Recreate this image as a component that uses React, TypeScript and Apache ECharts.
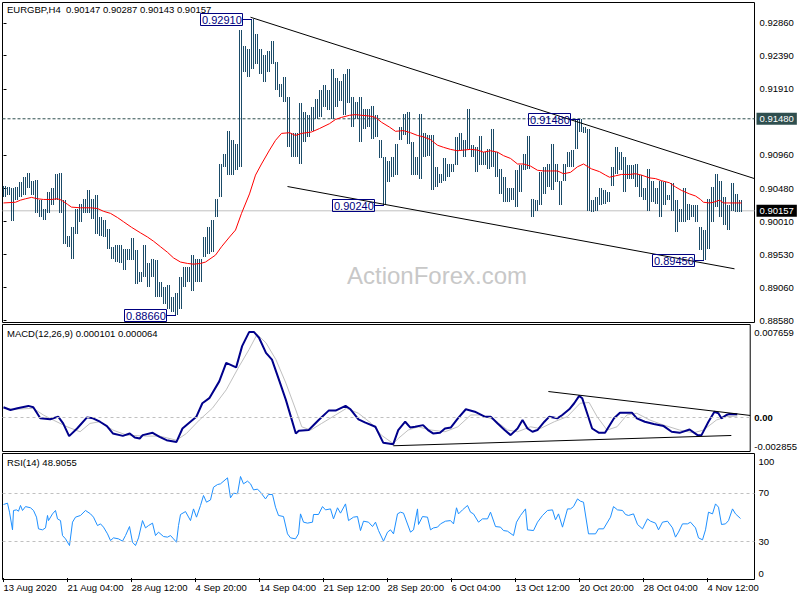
import React, { useEffect, useRef } from 'react';
import * as echarts from 'echarts';

const FONT = '"Liberation Sans", Arial, sans-serif';

// ---- header values ----
const symbolName = 'EURGBP,H4';
const lastOHLC = [0.90147, 0.90287, 0.90143, 0.90157];
const macdLast = [0.000101, 0.000064];
const rsiLast = 48.9055;

// ---- price bars (each entry = two H4 bars, highs / lows) ----
const barHigh = [
  0.9051, 0.9050, 0.9048, 0.9050, 0.9057, 0.9064, 0.9070, 0.9059, 0.9060, 0.9031,
  0.9019, 0.9043, 0.9048, 0.9069, 0.9070, 0.9031, 0.8980, 0.8992, 0.9019, 0.9026,
  0.9033, 0.9045, 0.9033, 0.9038, 0.9007, 0.9002, 0.8990, 0.8964, 0.8966, 0.8966,
  0.8961, 0.8961, 0.8976, 0.8959, 0.8928, 0.8966, 0.8940, 0.8947, 0.8945, 0.8913,
  0.8906, 0.8909, 0.8892, 0.8897, 0.8921, 0.8935, 0.8935, 0.8952, 0.8947, 0.8947,
  0.8978, 0.8992, 0.9002, 0.9033, 0.9083, 0.9098, 0.9131, 0.9117, 0.9112, 0.9275,
  0.9253, 0.9249, 0.9291, 0.9270, 0.9249, 0.9239, 0.9246, 0.9260, 0.9230, 0.9198,
  0.9208, 0.9179, 0.9127, 0.9127, 0.9170, 0.9158, 0.9153, 0.9165, 0.9177, 0.9189,
  0.9196, 0.9190, 0.9220, 0.9206, 0.9203, 0.9213, 0.9219, 0.9179, 0.9172, 0.9179,
  0.9162, 0.9162, 0.9167, 0.9153, 0.9117, 0.9093, 0.9088, 0.9093, 0.9112, 0.9136,
  0.9155, 0.9158, 0.9115, 0.9093, 0.9155, 0.9127, 0.9124, 0.9124, 0.9079, 0.9069,
  0.9091, 0.9083, 0.9083, 0.9122, 0.9127, 0.9117, 0.9162, 0.9110, 0.9107, 0.9123,
  0.9100, 0.9105, 0.9134, 0.9100, 0.9076, 0.9064, 0.9048, 0.9048, 0.9074, 0.9081,
  0.9098, 0.9123, 0.9033, 0.9031, 0.9071, 0.9079, 0.9083, 0.9112, 0.9083, 0.9059,
  0.9083, 0.9100, 0.9103, 0.9148, 0.9148, 0.9136, 0.9134, 0.9031, 0.9036, 0.9048,
  0.9045, 0.9043, 0.9079, 0.9107, 0.9100, 0.9093, 0.9081, 0.9081, 0.9083, 0.9067,
  0.9048, 0.9076, 0.9059, 0.9048, 0.9059, 0.9057, 0.9038, 0.9055, 0.9031, 0.9019,
  0.9048, 0.9026, 0.9024, 0.9024, 0.8992, 0.8988, 0.9033, 0.9050, 0.9069, 0.9059,
  0.9036, 0.9024, 0.9056, 0.9040, 0.9031,
];
const barLow = [
  0.9036, 0.9038, 0.9001, 0.9031, 0.9036, 0.9038, 0.9048, 0.9038, 0.9013, 0.9007,
  0.9003, 0.9012, 0.9024, 0.9031, 0.9012, 0.8968, 0.8964, 0.8946, 0.8983, 0.9000,
  0.9012, 0.9012, 0.9004, 0.8983, 0.8980, 0.8978, 0.8961, 0.8946, 0.8942, 0.8940,
  0.8930, 0.8945, 0.8945, 0.8911, 0.8913, 0.8921, 0.8906, 0.8921, 0.8892, 0.8892,
  0.8882, 0.8875, 0.8870, 0.8866, 0.8875, 0.8906, 0.8913, 0.8901, 0.8913, 0.8913,
  0.8949, 0.8954, 0.8956, 0.9007, 0.9036, 0.9079, 0.9067, 0.9067, 0.9074, 0.9079,
  0.9215, 0.9208, 0.9220, 0.9227, 0.9213, 0.9201, 0.9215, 0.9227, 0.9189, 0.9179,
  0.9172, 0.9107, 0.9093, 0.9093, 0.9083, 0.9115, 0.9122, 0.9131, 0.9148, 0.9150,
  0.9165, 0.9160, 0.9148, 0.9165, 0.9174, 0.9153, 0.9170, 0.9136, 0.9148, 0.9115,
  0.9134, 0.9136, 0.9119, 0.9122, 0.9091, 0.9024, 0.9057, 0.9064, 0.9067, 0.9117,
  0.9124, 0.9112, 0.9067, 0.9067, 0.9062, 0.9093, 0.9095, 0.9045, 0.9050, 0.9055,
  0.9059, 0.9064, 0.9071, 0.9081, 0.9103, 0.9093, 0.9105, 0.9093, 0.9071, 0.9081,
  0.9081, 0.9076, 0.9079, 0.9064, 0.9040, 0.9028, 0.9028, 0.9031, 0.9021, 0.9043,
  0.9074, 0.9076, 0.9007, 0.9016, 0.9024, 0.9040, 0.9050, 0.9045, 0.9057, 0.9024,
  0.9059, 0.9079, 0.9079, 0.9105, 0.9129, 0.9127, 0.9016, 0.9014, 0.9016, 0.9024,
  0.9026, 0.9028, 0.9052, 0.9069, 0.9074, 0.9043, 0.9062, 0.9062, 0.9050, 0.9036,
  0.9031, 0.9016, 0.9028, 0.9026, 0.9007, 0.9024, 0.9031, 0.9016, 0.8985, 0.9000,
  0.9000, 0.9002, 0.9007, 0.9000, 0.8959, 0.8945, 0.8961, 0.9000, 0.9021, 0.9007,
  0.8995, 0.8988, 0.9016, 0.9014, 0.9014,
];

// ---- moving average (bar index, value) ----
const maBars = [
  0, 6, 8.5, 11, 14, 17, 20, 24, 27, 29, 32, 34, 38.5, 43.5, 47, 50, 53.5, 57, 60, 64,
  68.5, 72, 75, 78.5, 82, 85, 88.5, 92, 95, 98.5, 101, 106, 109, 113, 116, 119, 123, 126, 129, 133,
  136, 139, 143, 146, 149, 154, 158, 163, 166, 169, 173, 176, 179, 183, 186, 189, 193, 196, 200, 203.5,
  207, 210, 213.5, 217, 220, 223.5, 227, 230, 233.5, 237, 240, 243.5, 247, 250, 253.5, 257, 260, 263.5, 267, 270,
  273.5, 277, 280, 283.5, 287, 290, 294, 298, 301, 303, 306, 309, 313, 316, 319, 323, 326, 329, 333, 336,
  339, 343, 346, 348.5, 350, 353, 355, 358, 360, 364, 369,
];
const maValues = [
  0.9027, 0.9028, 0.9031, 0.9033, 0.9035, 0.9033, 0.9032, 0.9032, 0.9033, 0.9031, 0.9025, 0.9021, 0.9020, 0.9020, 0.9019, 0.9015, 0.9012, 0.9006, 0.9000, 0.8992,
  0.8984, 0.8978, 0.8972, 0.8964, 0.8956, 0.8948, 0.8942, 0.8940, 0.8939, 0.8940, 0.8942, 0.8952, 0.8964, 0.8978, 0.8988, 0.9012, 0.9040, 0.9067, 0.9083, 0.9103,
  0.9117, 0.9127, 0.9128, 0.9124, 0.9127, 0.9129, 0.9134, 0.9141, 0.9147, 0.9150, 0.9153, 0.9154, 0.9153, 0.9152, 0.9150, 0.9143, 0.9136, 0.9130, 0.9131, 0.9128,
  0.9124, 0.9122, 0.9118, 0.9110, 0.9107, 0.9104, 0.9102, 0.9103, 0.9104, 0.9103, 0.9100, 0.9102, 0.9100, 0.9095, 0.9091, 0.9083, 0.9083, 0.9080, 0.9074, 0.9073,
  0.9073, 0.9073, 0.9069, 0.9071, 0.9079, 0.9083, 0.9076, 0.9072, 0.9067, 0.9064, 0.9066, 0.9068, 0.9068, 0.9069, 0.9067, 0.9063, 0.9062, 0.9059, 0.9056, 0.9050,
  0.9045, 0.9040, 0.9037, 0.9032, 0.9028, 0.9027, 0.9028, 0.9031, 0.9027, 0.9027, 0.9027,
];

// ---- MACD main line (bar index, value) ----
const macdBars = [
  0, 3.5, 7, 12.5, 15, 18.5, 23.5, 27.5, 30, 33, 37, 42, 45, 48.5, 52, 55, 60, 63.5, 66, 68.5,
  70, 75, 78.5, 82, 87, 90, 94, 97, 100, 103.5, 108.5, 112, 117, 120, 123.5, 126, 128.5, 132, 135, 138.5,
  142, 144.5, 147, 148.5, 153.5, 158.5, 163.5, 167, 172, 174.5, 178.5, 182, 187, 191, 196, 198.5, 202, 204.5, 207, 211,
  213.5, 216, 219.5, 222, 225, 228.5, 232.5, 237, 242, 245, 248.5, 252, 255, 258.5, 261, 263.5, 266, 268.5, 272, 274.5,
  278.5, 281, 284.5, 287, 289.5, 291, 293.5, 296, 299.5, 302.5, 307, 310, 316, 318.5, 322.5, 327, 332, 336, 340, 345,
  349, 351, 354.5, 357.5, 359.5, 361, 363.5, 365, 369,
];
const macdValues = [
  0.00081, 0.00058, 0.00072, 0.00092, 0.00081, -0.00011, -0.00019, 0.00003, -0.00053, -0.00158, -0.00095, -0.00003, -0.00011, -0.00039, -0.00075, -0.00136, -0.00156, -0.00136, -0.0017, -0.00178,
  -0.0015, -0.00131, -0.00164, -0.00192, -0.00206, -0.00095, -0.00039, 0.00003, 0.00114, 0.00156, 0.00295, 0.00448, 0.00411, 0.00587, 0.00703, 0.00703, 0.00656, 0.00531, 0.00475, 0.00309,
  0.00142, 0.00003, -0.00136, -0.00114, -0.00108, -0.00025, 0.00053, 0.00053, 0.00092, 0.00064, -0.00019, -0.00047, -0.00081, -0.00214, -0.00225, -0.00108, -0.00039, -0.00086, -0.00081, -0.00067,
  -0.00108, -0.00136, -0.00131, -0.00095, -0.00086, -0.00011, 0.00064, 0.00044, 0.00003, 0.00003, -0.00053, -0.00108, -0.0015, -0.00095, -0.00025, -0.00095, -0.00122, -0.00108, -0.00039, 0.00003,
  -0.00011, 0.00017, 0.00064, 0.00114, 0.00175, 0.00156, 0.00031, -0.00095, -0.00131, -0.00131, -0.00011, 0.00036, 0.00036, -0.00011, -0.00039, -0.00058, -0.00075, -0.00122, -0.00131, -0.00103,
  -0.0015, -0.0015, -0.00039, 0.00044, 0.00031, -0.00011, 0.00017, 0.00025, 0.00022,
];

// ---- MACD signal line ----
const signalBars = [
  0, 5, 15, 20, 25, 32, 38.5, 43.5, 48.5, 55, 62, 72, 78.5, 87, 92, 98.5, 105, 112, 118.5, 123.5,
  127.5, 132, 137, 142, 147, 150, 154.5, 160, 167, 172.5, 178.5, 185, 190, 196, 198.5, 203.5, 208.5, 215, 222, 228.5,
  235, 240, 247, 253.5, 258.5, 265, 270, 277, 283.5, 290, 294.5, 298.5, 303.5, 308.5, 313.5, 318.5, 325, 332, 340, 347,
  352, 358.5, 363.5, 369,
];
const signalValues = [
  0.00072, 0.00064, 0.00072, 0.00017, -0.00025, -0.00081, -0.00122, -0.00053, -0.00039, -0.00108, -0.0015, -0.00158, -0.00158, -0.00192, -0.00136, -0.00025, 0.00072, 0.00225, 0.0042, 0.00559,
  0.00684, 0.00614, 0.00475, 0.00281, 0.00058, -0.00081, -0.00108, -0.00053, 0.00017, 0.00072, 0.00031, -0.00053, -0.0015, -0.0022, -0.00178, -0.00108, -0.00081, -0.00108, -0.00122, -0.00081,
  0.00017, 0.00017, -0.00025, -0.00108, -0.00122, -0.00081, -0.00095, -0.00039, 0.00003, 0.00114, 0.0012, 0.00003, -0.00108, -0.00081, 0.00017, 0.00031, -0.00025, -0.00067, -0.00108, -0.00131,
  -0.00108, -0.00025, 0.00003, 0.00008,
];

// ---- RSI(14) ----
const rsiBars = [
  0, 2, 3, 4.5, 5, 6.5, 7.5, 8.5, 9.5, 11, 13.5, 15, 16.5, 17.5, 19.5, 21, 22, 22.5, 24.5, 26,
  27, 28.5, 29.5, 31, 33, 34.5, 36, 38.5, 41, 43.5, 45, 47, 48.5, 50, 52, 53.5, 55, 57.5, 59.5, 61,
  63, 64.5, 66, 67.5, 69.5, 71, 72.5, 74.5, 76, 77.5, 80, 82, 83.5, 85, 86.5, 87.5, 88.5, 91, 93.5, 95,
  96.5, 98.5, 100, 101.5, 103.5, 105, 107, 108.5, 112, 113.5, 115, 117, 118.5, 120, 122, 123.5, 125, 127, 128.5, 131,
  132.5, 134.5, 136, 137.5, 140, 142, 143.5, 146, 147.5, 148.5, 150, 152, 154.5, 155, 157.5, 159.5, 161, 163.5, 165, 167,
  168.5, 171, 172.5, 175, 177, 178.5, 180, 182.5, 184.5, 186, 187.5, 190, 192, 193.5, 195, 197, 198.5, 200, 203.5, 205,
  207, 207.5, 209.5, 212, 213.5, 215, 217, 218.5, 221, 223.5, 225, 226.5, 227.5, 229.5, 232, 233.5, 235, 237.5, 239.5, 242,
  243.5, 246, 248.5, 250, 252, 255, 256.5, 258.5, 261, 262, 265, 267, 269.5, 272, 274.5, 276, 277.5, 279.5, 282, 283.5,
  285, 287, 288.5, 290, 292.5, 296, 297.5, 300, 303.5, 305, 307, 309.5, 311, 312.5, 315, 317, 319.5, 322, 323.5, 326,
  327.5, 329.5, 332, 334.5, 336, 337.5, 339.5, 342, 343.5, 346, 347.5, 349.5, 351, 352.5, 354.5, 356, 357.5, 359, 361, 362.5,
  364.5, 366, 368.5,
];
const rsiValues = [
  60.4, 61.5, 54.1, 39.6, 55.5, 56.0, 54.9, 59.6, 55.5, 58.7, 57.7, 55.5, 50.0, 40.4, 39.6, 41.2, 51.4, 47.2, 52.7, 55.5,
  48.6, 47.2, 34.9, 32.2, 26.7, 45.9, 50.0, 51.4, 55.5, 52.7, 50.0, 43.1, 44.5, 41.8, 36.3, 30.8, 33.0, 32.2, 30.3, 34.9,
  42.3, 29.4, 26.7, 33.0, 47.2, 41.2, 43.1, 45.1, 34.9, 37.7, 34.1, 33.6, 34.9, 32.2, 29.4, 43.1, 52.2, 54.6, 47.2, 56.8,
  50.0, 59.6, 67.8, 62.3, 64.2, 74.6, 76.8, 77.4, 82.3, 65.9, 69.7, 69.2, 83.4, 77.4, 79.6, 77.4, 72.4, 73.0, 70.5, 65.0,
  68.6, 68.6, 58.2, 51.4, 50.5, 36.3, 33.0, 32.2, 36.3, 52.7, 45.9, 45.1, 45.9, 52.2, 52.2, 58.7, 56.0, 56.8, 48.6, 57.7,
  53.3, 60.9, 47.2, 50.0, 50.5, 39.0, 46.7, 45.9, 42.3, 45.9, 39.0, 30.3, 37.7, 39.6, 36.3, 52.7, 54.1, 53.3, 37.7, 39.6,
  56.8, 44.0, 50.5, 50.0, 39.6, 41.2, 41.8, 44.5, 46.7, 47.2, 44.5, 57.7, 52.7, 56.0, 59.6, 54.1, 52.7, 45.9, 48.6, 48.6,
  54.1, 42.3, 41.8, 39.0, 38.5, 34.9, 45.9, 51.4, 56.8, 39.6, 39.0, 45.9, 51.4, 55.5, 56.0, 47.8, 52.7, 41.8, 56.8, 56.8,
  58.7, 65.0, 63.1, 62.3, 36.3, 36.3, 40.4, 40.4, 50.0, 58.7, 56.0, 55.5, 52.2, 51.4, 52.7, 44.0, 40.4, 48.6, 46.7, 45.1,
  39.6, 45.9, 46.7, 41.2, 33.6, 37.7, 44.5, 44.5, 45.9, 41.2, 33.0, 31.4, 39.6, 54.1, 52.7, 60.9, 58.2, 44.0, 44.5, 47.2,
  56.8, 52.7, 48.9,
];

// ---- axis labels ----
const timeLabels = [
  '13 Aug 2020', '21 Aug 04:00', '28 Aug 12:00', '4 Sep 20:00', '14 Sep 04:00', '21 Sep 12:00',
  '28 Sep 20:00', '6 Oct 04:00', '13 Oct 12:00', '20 Oct 20:00', '28 Oct 04:00', '4 Nov 12:00',
];
const timeLabelBars = [0, 32, 64, 96, 128, 160, 192, 224, 256, 288, 320, 352];
const priceTicks = [0.9286, 0.9239, 0.9191, 0.9096, 0.9048, 0.9001, 0.8953, 0.8906, 0.8858];
const macdTicks = [-0.002855, 0, 0.007659];
const rsiTicks = [0, 30, 70, 100];
const rsiLevels = [30, 70];

// ---- levels, tags and trend lines ----
const resistanceLevel = 0.9148;
const tagBars = [124, 288, 190, 86, 350];
const tagPrices = [0.9291, 0.9148, 0.9024, 0.8866, 0.8945];
const priceTrendUpper = [[123.5, 0.9294], [375.5, 0.9062]];
const priceTrendLower = [[142, 0.90506], [365.5, 0.89323]];
const macdTrendUpper = [[274, 0.00211], [375.5, 0.00013]];
const macdTrendLower = [[196, -0.00238], [366, -0.00153]];

const X_MIN = -0.5;
const X_MAX = 375.5;
const BAR_COLOR = '#1b4b68';
const NAVY = '#000080';

const pairs = (xs: number[], ys: number[]) => xs.map((x, i) => [x, ys[i]]);

export default function App() {
  const ref = useRef<HTMLDivElement>(null);
  useEffect(() => {
    if (!ref.current) return;
    const chart = echarts.init(ref.current, undefined, { renderer: 'svg' });
    const txt = { fontFamily: FONT, fontSize: 9.5, color: '#000' };
    const gridBase = { show: true, borderColor: '#000', borderWidth: 1, backgroundColor: 'transparent' };
    const xAxes = [0, 1, 2].map((g) => ({
      type: 'value', gridIndex: g, min: X_MIN, max: X_MAX,
      axisLine: { show: false }, splitLine: { show: false },
      axisTick: g === 2 ? { show: true, customValues: timeLabelBars, length: 4, lineStyle: { color: '#000' } } : { show: false },
      axisLabel: g === 2 ? {
        show: true, customValues: timeLabelBars, align: 'left', margin: 3, ...txt,
        formatter: (v: number) => timeLabels[timeLabelBars.indexOf(Math.round(v))] ?? '',
      } : { show: false },
    }));
    const levelSeries = (value: number, lineStyle: any, bg: string) => ({
      type: 'line', xAxisIndex: 0, yAxisIndex: 0, z: 1, silent: true,
      data: [[X_MIN, value], [X_MAX, value]], symbol: 'none', lineStyle,
      endLabel: {
        show: true, distance: 2, formatter: value.toFixed(5),
        color: '#fff', backgroundColor: bg, padding: [1, 3, 1, 3], fontFamily: FONT, fontSize: 9.5,
      },
    });
    const option: any = {
      animation: false,
      backgroundColor: '#fff',
      title: [
        { text: symbolName, left: 7, top: 4, padding: 0, textStyle: { ...txt, fontWeight: 'normal' } },
        { text: lastOHLC.map((v) => v.toFixed(5)).join(' '), left: 66, top: 4, padding: 0, textStyle: { ...txt, fontWeight: 'normal' } },
        { text: `MACD(12,26,9) ${macdLast[0].toFixed(6)} ${macdLast[1].toFixed(6)}`, left: 7, top: 328, padding: 0, textStyle: { ...txt, fontWeight: 'normal' } },
        { text: `RSI(14) ${rsiLast.toFixed(4)}`, left: 7, top: 457, padding: 0, textStyle: { ...txt, fontWeight: 'normal' } },
      ],
      graphic: [
        { type: 'text', x: 347, y: 275, z: -1, silent: true,
          style: { text: 'ActionForex.com', font: `24px ${FONT}`, fill: '#c8c8c8', verticalAlign: 'middle', textVerticalAlign: 'middle' } },
      ],
      grid: [
        { ...gridBase, left: 2.5, top: 2.5, width: 752, height: 320 },
        { ...gridBase, left: 2.5, top: 324.5, width: 752, height: 127 },
        { ...gridBase, left: 2.5, top: 453.5, width: 752, height: 126 },
      ],
      xAxis: xAxes,
      yAxis: [
        {
          type: 'value', gridIndex: 0, position: 'right', min: 0.88551, max: 0.93152,
          axisLine: { show: false }, splitLine: { show: false },
          axisTick: { show: true, length: 3, customValues: priceTicks, lineStyle: { color: '#000' } },
          axisLabel: { customValues: priceTicks, margin: 5, ...txt, formatter: (v: number) => v.toFixed(5) },
        },
        {
          type: 'value', gridIndex: 1, position: 'right', min: -0.002855, max: 0.007659,
          axisLine: { show: false }, splitLine: { show: false },
          axisTick: { show: false },
          axisLabel: {
            customValues: macdTicks, margin: 4, ...txt,
            verticalAlignMinLabel: 'bottom', verticalAlignMaxLabel: 'top',
            formatter: (v: number) => (Math.abs(v) < 1e-9 ? '{z|0.00}' : v > 0 ? `{t|${v.toFixed(6)}}` : v.toFixed(6)),
            rich: { z: { ...txt, fontWeight: 'bold' }, t: { ...txt, padding: [3, 0, 0, 0] } },
          },
        },
        {
          type: 'value', gridIndex: 2, position: 'right', min: -1.2, max: 102.3,
          axisLine: { show: false }, splitLine: { show: false },
          axisTick: { show: false },
          axisLabel: {
            customValues: rsiTicks, margin: 4, ...txt,
            verticalAlignMinLabel: 'bottom', verticalAlignMaxLabel: 'top',
            formatter: (v: number) => String(Math.round(v)),
          },
        },
      ],
      series: [
        levelSeries(resistanceLevel, { color: '#2f4f4f', type: [3, 2], width: 1 }, '#2f4f4f'),
        levelSeries(lastOHLC[3], { color: '#c0c0c0', type: 'solid', width: 1 }, '#000'),
        {
          type: 'custom', name: 'bars', xAxisIndex: 0, yAxisIndex: 0, z: 2,
          data: barHigh.map((h, i) => [i * 2, h, barLow[i]]),
          renderItem: (params: any, api: any) => {
            const k = api.value(0);
            const top = api.coord([k, api.value(1)]);
            const bot = api.coord([k, api.value(2)]);
            const y0 = Math.round(top[1]);
            const h = Math.max(1, Math.round(bot[1]) - y0);
            const x = Math.floor(top[0]);
            return {
              type: 'group',
              children: [
                { type: 'rect', shape: { x, y: y0, width: 1, height: h }, style: { fill: BAR_COLOR } },
                { type: 'rect', shape: { x: x + 2, y: y0, width: 1, height: h }, style: { fill: BAR_COLOR } },
              ],
            };
          },
        },
        {
          type: 'line', name: 'MA', xAxisIndex: 0, yAxisIndex: 0, z: 3,
          data: pairs(maBars, maValues), symbol: 'none', smooth: false,
          lineStyle: { color: '#ff0000', width: 1 },
        },
        {
          type: 'line', xAxisIndex: 0, yAxisIndex: 0, z: 4, data: priceTrendUpper, symbol: 'none',
          lineStyle: { color: '#000', width: 1 },
        },
        {
          type: 'line', xAxisIndex: 0, yAxisIndex: 0, z: 4, data: priceTrendLower, symbol: 'none',
          lineStyle: { color: '#000', width: 1 },
        },
        {
          type: 'custom', name: 'tags', xAxisIndex: 0, yAxisIndex: 0, z: 6,
          data: tagBars.map((k, i) => [k, tagPrices[i]]),
          renderItem: (params: any, api: any) => {
            const p = api.coord([api.value(0), api.value(1)]);
            const x = Math.round(p[0]);
            const y = Math.round(p[1]) + 0.5;
            const right = x - 10;
            return {
              type: 'group',
              children: [
                { type: 'line', shape: { x1: right, y1: y, x2: x, y2: y }, style: { stroke: NAVY, lineWidth: 1 } },
                { type: 'rect', shape: { x: right - 42 + 0.5, y: y - 6, width: 42, height: 12 }, style: { fill: 'none', stroke: NAVY, lineWidth: 1 } },
                { type: 'text', x: right - 40, y: y,
                  style: { text: (api.value(1) as number).toFixed(5), fill: NAVY, font: `11px ${FONT}`, verticalAlign: 'middle', textVerticalAlign: 'middle' } },
              ],
            };
          },
        },
        {
          type: 'line', name: 'MACD', xAxisIndex: 1, yAxisIndex: 1, z: 3,
          data: pairs(macdBars, macdValues), symbol: 'none',
          lineStyle: { color: '#00008b', width: 2 },
          markLine: {
            silent: true, symbol: ['none', 'none'], label: { show: false },
            lineStyle: { color: '#c0c0c0', type: [3, 3], width: 1 },
            data: [{ yAxis: 0 }],
          },
        },
        {
          type: 'line', name: 'Signal', xAxisIndex: 1, yAxisIndex: 1, z: 2,
          data: pairs(signalBars, signalValues), symbol: 'none',
          lineStyle: { color: '#c0c0c0', width: 1 },
        },
        {
          type: 'line', xAxisIndex: 1, yAxisIndex: 1, z: 4, data: macdTrendUpper, symbol: 'none',
          lineStyle: { color: '#000', width: 1 },
        },
        {
          type: 'line', xAxisIndex: 1, yAxisIndex: 1, z: 4, data: macdTrendLower, symbol: 'none',
          lineStyle: { color: '#000', width: 1 },
        },
        {
          type: 'line', name: 'RSI', xAxisIndex: 2, yAxisIndex: 2, z: 3,
          data: pairs(rsiBars, rsiValues), symbol: 'none',
          lineStyle: { color: '#1e90ff', width: 1 },
          markLine: {
            silent: true, symbol: ['none', 'none'], label: { show: false },
            lineStyle: { color: '#c0c0c0', type: [3, 3], width: 1 },
            data: rsiLevels.map((v) => ({ yAxis: v })),
          },
        },
      ],
    };
    chart.setOption(option);
    return () => chart.dispose();
  }, []);
  return (
    <div
      ref={ref}
      style={{ position: 'fixed', left: 0, top: 0, width: 800, height: 600, background: '#fff' }}
    />
  );
}
